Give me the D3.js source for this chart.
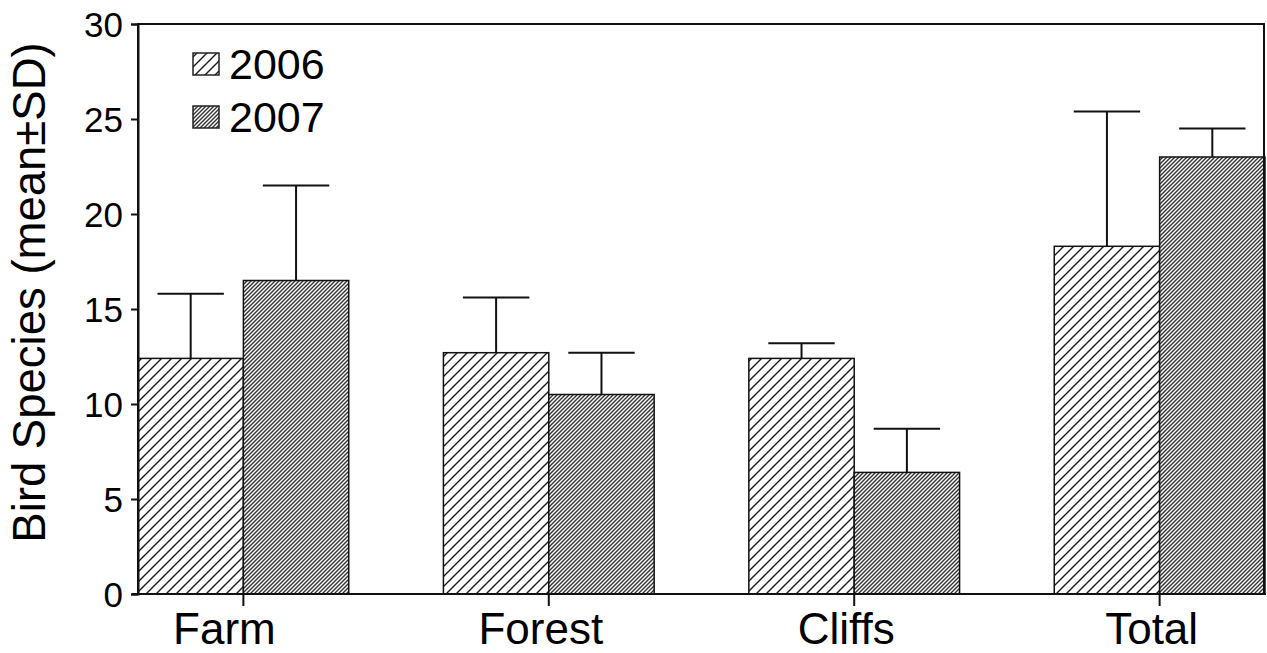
<!DOCTYPE html>
<html>
<head>
<meta charset="utf-8">
<script src="https://cdn.jsdelivr.net/npm/d3@7"></script>
<style>
  html, body { margin: 0; padding: 0; background: #fff; }
  svg { display: block; font-family: Arial, "Liberation Sans", sans-serif; }
</style>
</head>
<body>
<svg id="chart" width="1267" height="653"></svg>
<script>
// Bird species per habitat, mean and mean+SD for two survey years
const categories = ["Farm", "Forest", "Cliffs", "Total"];
const years = ["2006", "2007"];
const mean2006 = [12.4, 12.7, 12.4, 18.3];
const upper2006 = [15.8, 15.6, 13.2, 25.4];
const mean2007 = [16.5, 10.5, 6.4, 23.0];
const upper2007 = [21.5, 12.7, 8.7, 24.5];
const yTicks = [0, 5, 10, 15, 20, 25, 30];

const svg = d3.select("#chart");
const plotLeft = 138, plotRight = 1264, plotTop = 24, plotBottom = 594;

const x = d3.scaleBand().domain(categories).range([plotLeft, plotRight + 1])
  .paddingInner(0.31).paddingOuter(0);
const sub = d3.scaleBand().domain(years).range([0, x.bandwidth()]).padding(0);
const y = d3.scaleLinear().domain([0, 30]).range([plotBottom, plotTop]);

// hatch fills
const defs = svg.append("defs");
defs.append("pattern").attr("id", "hatchWide")
  .attr("patternUnits", "userSpaceOnUse").attr("width", 10).attr("height", 10)
  .call(p => {
    p.append("rect").attr("width", 10).attr("height", 10).attr("fill", "#fff");
    p.append("path").attr("d", "M-2,2 L2,-2 M0,10 L10,0 M8,12 L12,8")
      .attr("stroke", "#1a1a1a").attr("stroke-width", 1.4);
  });
defs.append("pattern").attr("id", "hatchFine")
  .attr("patternUnits", "userSpaceOnUse").attr("width", 4).attr("height", 4)
  .call(p => {
    p.append("rect").attr("width", 4).attr("height", 4).attr("fill", "#fff");
    p.append("path").attr("d", "M-1,1 L1,-1 M0,4 L4,0 M3,5 L5,3")
      .attr("stroke", "#333").attr("stroke-width", 1.4);
  });
const fills = { "2006": "url(#hatchWide)", "2007": "url(#hatchFine)" };

const rows = categories.map((c, i) => ([
  { cat: c, year: "2006", mean: mean2006[i], upper: upper2006[i] },
  { cat: c, year: "2007", mean: mean2007[i], upper: upper2007[i] }
])).flat();

// bars
svg.append("g").selectAll("rect").data(rows).join("rect")
  .attr("x", d => x(d.cat) + sub(d.year))
  .attr("y", d => y(d.mean))
  .attr("width", sub.bandwidth())
  .attr("height", d => y(0) - y(d.mean))
  .attr("fill", d => fills[d.year])
  .attr("stroke", "#111").attr("stroke-width", 1.5);

// error bars (upper side only)
const capW = sub.bandwidth() * 0.63;
const err = svg.append("g").attr("stroke", "#111").attr("stroke-width", 2);
rows.forEach(d => {
  const cx = x(d.cat) + sub(d.year) + sub.bandwidth() / 2;
  err.append("line").attr("x1", cx).attr("x2", cx)
    .attr("y1", y(d.mean)).attr("y2", y(d.upper));
  err.append("line").attr("x1", cx - capW / 2).attr("x2", cx + capW / 2)
    .attr("y1", y(d.upper)).attr("y2", y(d.upper));
});

// frame
svg.append("path")
  .attr("d", `M${plotLeft},${plotBottom} L${plotLeft},${plotTop} L${plotRight},${plotTop} L${plotRight},${plotBottom}`)
  .attr("fill", "none").attr("stroke", "#111").attr("stroke-width", 2);

// y axis
const yAxis = svg.append("g").attr("transform", `translate(${plotLeft},0)`)
  .call(d3.axisLeft(y).tickValues(yTicks).tickSize(7).tickPadding(8).tickFormat(d3.format("d")));
yAxis.select(".domain").attr("stroke", "#111").attr("stroke-width", 2);
yAxis.selectAll(".tick line").attr("stroke", "#111").attr("stroke-width", 2);
yAxis.selectAll(".tick text").attr("font-size", 35).attr("fill", "#000")
  .attr("font-family", "Arial, 'Liberation Sans', sans-serif").attr("dy", "0.36em");

// x axis; labels sit slightly left of their tick marks
const xAxis = svg.append("g").attr("transform", `translate(0,${plotBottom})`)
  .call(d3.axisBottom(x).tickSizeInner(12).tickSizeOuter(0).tickPadding(7));
xAxis.select(".domain").attr("d", `M${plotLeft - 6},0 H${plotRight + 2}`)
  .attr("stroke", "#111").attr("stroke-width", 2);
xAxis.selectAll(".tick line").attr("stroke", "#111").attr("stroke-width", 2);
xAxis.selectAll(".tick text").attr("font-size", 44).attr("fill", "#000")
  .attr("font-family", "Arial, 'Liberation Sans', sans-serif")
  .attr("dx", d => d === "Farm" ? -19 : -8);

// y title
svg.append("text")
  .attr("transform", `translate(45,${(45 + 540) / 2}) rotate(-90)`)
  .attr("text-anchor", "middle").attr("font-size", 45.5).attr("fill", "#000")
  .text("Bird Species (mean±SD)");

// legend
const legend = svg.append("g");
years.forEach((yr, i) => {
  const ly = 53 + i * 53;
  legend.append("rect").attr("x", 193).attr("y", ly).attr("width", 26).attr("height", 22)
    .attr("fill", fills[yr]).attr("stroke", "#222").attr("stroke-width", 1.5);
  legend.append("text").attr("x", 229).attr("y", ly + 26)
    .attr("font-size", 43).attr("fill", "#000").text(yr);
});
</script>
</body>
</html>
